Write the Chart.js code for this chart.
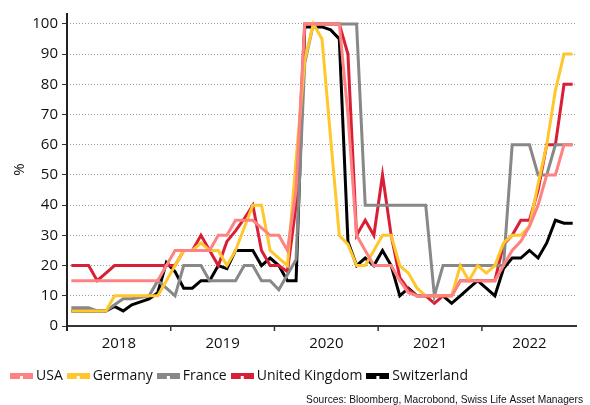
<!DOCTYPE html>
<html>
<head>
<meta charset="utf-8">
<script src="https://cdn.jsdelivr.net/npm/chart.js@4/dist/chart.umd.min.js"></script>
<style>
html,body{margin:0;padding:0;background:#fff;}
#wrap{width:590px;height:405px;position:relative;}
</style>
</head>
<body>
<div id="wrap"><canvas id="c" width="590" height="405"></canvas></div>
<script>
// ---- categories (monthly, Jan 2018 .. Nov 2022) ----
const months = [
 "2018-01","2018-02","2018-03","2018-04","2018-05","2018-06","2018-07","2018-08","2018-09","2018-10","2018-11","2018-12",
 "2019-01","2019-02","2019-03","2019-04","2019-05","2019-06","2019-07","2019-08","2019-09","2019-10","2019-11","2019-12",
 "2020-01","2020-02","2020-03","2020-04","2020-05","2020-06","2020-07","2020-08","2020-09","2020-10","2020-11","2020-12",
 "2021-01","2021-02","2021-03","2021-04","2021-05","2021-06","2021-07","2021-08","2021-09","2021-10","2021-11","2021-12",
 "2022-01","2022-02","2022-03","2022-04","2022-05","2022-06","2022-07","2022-08","2022-09","2022-10","2022-11"
];
const yearLabels = ["2018","2019","2020","2021","2022"];
const yTicks = [0,10,20,30,40,50,60,70,80,90,100];

// ---- series values (%) ----
const usa = [15,15,15,15,15,15,15,15,15,15,15,20,25,25,25,25,25,30,30,35,35,35,32.5,30,30,25,45,100,100,100,100,100,70,30,25,20,20,20,15,11,10,10,10,10,10,15,15,15,15,15,20,25,28,33,40,50,50,60,60];
const germany = [5,5,5,5,5,10,10,10,10,10,10,15,20,25,25,27.5,25,25,20,25,32.5,40,40,25,22.5,20,55,88,100,95,62,30,27,20,20,25,30,30,20,17.5,12.5,10,10,10,10,20,15,20,17.5,20,27.5,30,30,33,47,60,78,90,90];
const france = [6,6,6,5,5,7,9,9,9.5,10,15,12.5,10,20,20,20,15,15,15,15,20,20,15,15,12,17,22,87,100,100,100,100,100,100,40,40,40,40,40,40,40,40,10,20,20,20,20,20,20,20,20,60,60,60,50,50,60,60,60];
const uk = [20,20,20,15,17.5,20,20,20,20,20,20,20,20,25,25,30,25,20,28,31.5,35.5,40,25,20,20,18,40,100,100,100,100,100,90,30,35,30,50,30,16,12,10,10,7.5,10,10,15,15,15,15,15,27,30,35,35,45,60,60,80,80];
const switzerland = [5,5,5,5,5,6.5,5,7,8,9,11,21,18,12.5,12.5,15,15,20,19,25,25,25,20,22.5,20,15,15,99,99,99,98,95,28,20,22.5,20,25,20,10,12.5,10,10,10,10,7.5,10,12.5,15,12.5,10,19,22.5,22.5,25,22.5,27.5,35,34,34];

const seriesNames = ["USA","Germany","France","United Kingdom","Switzerland"];
const seriesColors = ["#FF8282","#FFC72C","#888888","#D91F36","#000000"];
const seriesValues = [usa, germany, france, uk, switzerland];
const sourceText = "Sources: Bloomberg, Macrobond, Swiss Life Asset Managers";

// points sit in the middle of each month on a month-index axis
const toPoints = vals => vals.map((v, i) => ({x: i + 0.5, y: v}));

const FONT = "'Open Sans', 'DejaVu Sans', sans-serif";

// legend marker: solid upper band, lower band split by a small gap
function makeMarker(color) {
  const c = document.createElement('canvas');
  c.width = 23; c.height = 6;
  const g = c.getContext('2d');
  g.fillStyle = color;
  g.fillRect(0, 0, 23, 3);
  g.fillRect(0, 3, 10, 3);
  g.fillRect(13, 3, 10, 3);
  return c;
}
const markers = seriesColors.map(makeMarker);

const axesPlugin = {
  id: 'axesPlugin',
  afterDraw(chart) {
    const {ctx, chartArea: a, scales: {x}} = chart;
    ctx.save();
    ctx.strokeStyle = '#333';
    ctx.lineWidth = 2;
    ctx.beginPath();
    ctx.moveTo(a.left, a.bottom);
    ctx.lineTo(a.right, a.bottom);
    ctx.stroke();
    ctx.strokeStyle = '#222';
    ctx.beginPath();
    ctx.moveTo(a.left, a.top);
    ctx.lineTo(a.left, a.bottom + 5);
    ctx.stroke();
    ctx.lineWidth = 1.5;
    ctx.strokeStyle = '#333';
    for (let k = 1; k < yearLabels.length; k++) {
      const px = x.getPixelForValue(k * 12);
      ctx.beginPath();
      ctx.moveTo(px, a.bottom);
      ctx.lineTo(px, a.bottom + 5);
      ctx.stroke();
    }
    ctx.fillStyle = '#111';
    ctx.font = "10.2px 'Liberation Sans', Arial, sans-serif";
    ctx.textAlign = 'right';
    ctx.textBaseline = 'alphabetic';
    ctx.fillText(sourceText, 583, 403);
    ctx.restore();
  }
};

new Chart(document.getElementById('c'), {
  type: 'line',
  data: {
    labels: months,
    datasets: seriesNames.map((name, i) => ({
      label: name,
      data: toPoints(seriesValues[i]),
      borderColor: seriesColors[i],
      backgroundColor: seriesColors[i],
      borderWidth: 3,
      pointRadius: 0,
      tension: 0,
      fill: false
    }))
  },
  options: {
    responsive: false,
    animation: false,
    layout: {padding: {top: 12, right: 13, left: 6, bottom: 12}},
    plugins: {
      tooltip: {enabled: false},
      title: {display: false},
      legend: {
        position: 'bottom',
        align: 'start',
        labels: {
          usePointStyle: true,
          pointStyleWidth: 15,
          padding: 8,
          color: '#111',
          font: {family: FONT, size: 14},
          generateLabels(chart) {
            return Chart.defaults.plugins.legend.labels.generateLabels(chart).map((l, i) =>
              Object.assign(l, {pointStyle: markers[i]}));
          }
        }
      }
    },
    scales: {
      x: {
        type: 'linear',
        min: 0,
        max: months.length,
        grid: {display: false, drawTicks: false},
        border: {display: false},
        afterBuildTicks(scale) {
          scale.ticks = yearLabels.map((y, k) => {
            const s = Math.max(k * 12, scale.min), e = Math.min(k * 12 + 12, scale.max);
            return {value: (s + e) / 2};
          });
        },
        afterFit(scale) { scale.height = 35; },
        ticks: {
          autoSkip: false,
          maxRotation: 0,
          padding: 9,
          color: '#111',
          font: {family: FONT, size: 15},
          callback: (v, i) => yearLabels[i]
        }
      },
      y: {
        min: 0,
        max: 103.6,
        afterBuildTicks(scale) { scale.ticks = yTicks.map(v => ({value: v})); },
        afterFit(scale) { scale.width = 61; },
        grid: {
          color: '#9a9a9a',
          lineWidth: 1,
          drawTicks: true,
          tickLength: 5,
          tickColor: '#333',
          tickWidth: 1,
          tickBorderDash: []
        },
        border: {display: false, dash: [1, 2]},
        ticks: {
          padding: 4,
          color: '#111',
          font: {family: FONT, size: 15}
        },
        title: {
          display: true,
          text: '%',
          color: '#111',
          font: {family: FONT, size: 15},
          padding: {top: 5, bottom: 0}
        }
      }
    }
  },
  plugins: [axesPlugin]
});
</script>
</body>
</html>
